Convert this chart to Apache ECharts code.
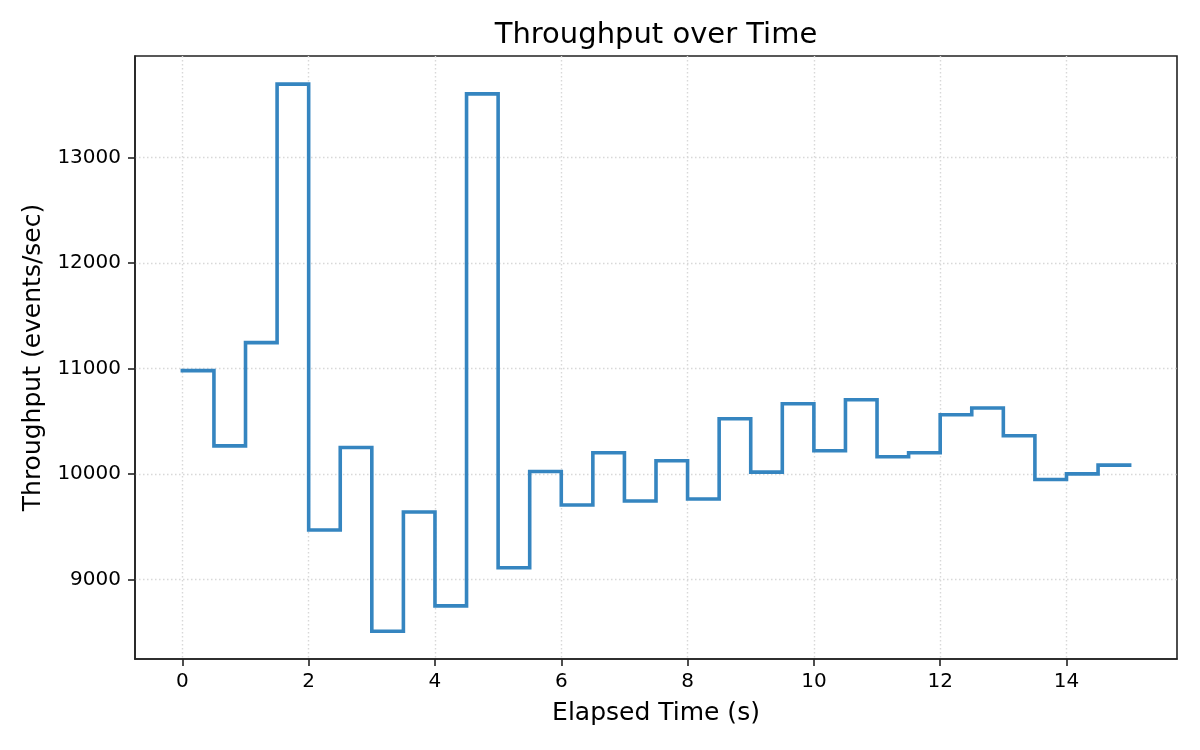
<!DOCTYPE html>
<html>
<head>
<meta charset="utf-8">
<title>Throughput over Time</title>
<script src="https://cdn.jsdelivr.net/npm/echarts@6/dist/echarts.min.js"></script>
<style>
    html,body{margin:0;padding:0;background:#fff;}
    #chartThroughput{width:1200px;height:750px;}
</style>
</head>
<body>
<div id="chartThroughput"></div>
<script>
    // elapsed time (s), one sample every 0.5 s
    var timeList=[0,0.5,1,1.5,2,2.5,3,3.5,4,4.5,5,5.5,6,6.5,7,7.5,8,8.5,9,9.5,10,10.5,11,11.5,12,12.5,13,13.5,14,14.5,15];
    // throughput (events/sec)
    var throughputList=[10979,10266,11245,13695,9468,10250,8508,9639,8749,13603,9110,10022,9705,10200,9743,10124,9762,10523,10017,10665,10219,10703,10162,10200,10561,10625,10361,9947,10000,10083,10083];
    var xTicks=[0,2,4,6,8,10,12,14];
    var yTicks=[9000,10000,11000,12000,13000];

    var fontName="DejaVu Sans";

    function buildPoints(){
        var points=[];
        for(var i=0;i<timeList.length;i++){
            points.push([timeList[i],throughputList[i]]);
        }
        return points;
    }

    var myChart=echarts.init(document.getElementById('chartThroughput'));
    var option={
        backgroundColor:'#ffffff',
        animation:false,
        title:{
            text:'Throughput over Time',
            left:656,
            textAlign:'center',
            top:21,
            padding:0,
            textStyle:{fontFamily:fontName,fontSize:29,fontWeight:'normal',color:'#000'}
        },
        grid:{left:135,right:23,top:56,bottom:91,show:true,borderColor:'#222',borderWidth:1.6,backgroundColor:'transparent'},
        xAxis:{
            type:'value',
            min:-0.75,
            max:15.75,
            name:'Elapsed Time (s)',
            nameLocation:'middle',
            nameGap:42,
            nameTextStyle:{fontFamily:fontName,fontSize:25,color:'#000'},
            axisLine:{show:true,onZero:false,lineStyle:{color:'#222',width:1.6}},
            axisTick:{show:true,inside:false,length:7,customValues:xTicks,lineStyle:{color:'#222',width:1.6}},
            axisLabel:{customValues:xTicks,margin:13,fontFamily:fontName,fontSize:20,color:'#000'},
            splitLine:{show:true,lineStyle:{color:'#d8d8d8',width:1.4,type:[1.5,2.5]}}
        },
        yAxis:{
            type:'value',
            min:8245,
            max:13962,
            name:'Throughput (events/sec)',
            nameLocation:'middle',
            nameRotate:90,
            nameGap:82,
            nameTextStyle:{fontFamily:fontName,fontSize:25,color:'#000'},
            axisLine:{show:true,onZero:false,lineStyle:{color:'#222',width:1.6}},
            axisTick:{show:true,inside:false,length:7,customValues:yTicks,lineStyle:{color:'#222',width:1.6}},
            axisLabel:{
                customValues:yTicks,
                margin:14,
                fontFamily:fontName,
                fontSize:20,
                color:'#000',
                formatter:function(v){return String(v);}   //no thousands separator
            },
            splitLine:{show:true,lineStyle:{color:'#d8d8d8',width:1.4,type:[1.5,2.5]}}
        },
        series:[{
            type:'line',
            step:'end',
            data:buildPoints(),
            showSymbol:false,
            symbol:'none',
            lineStyle:{color:'#3585c0',width:3.6,cap:'square',join:'miter'}
        }]
    };
    myChart.setOption(option);
</script>
</body>
</html>
